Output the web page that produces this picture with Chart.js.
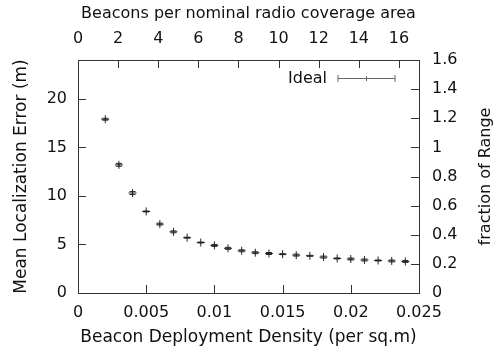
<!DOCTYPE html>
<html>
<head>
<meta charset="utf-8">
<script src="https://cdn.jsdelivr.net/npm/chart.js@4"></script>
<style>
  html, body { margin: 0; padding: 0; background: #fff; }
  canvas { display: block; }
</style>
</head>
<body>
<canvas id="densityChart" width="494" height="356"></canvas>
<script>
// beacon deployment density (per sq.m), one run per 0.001 step
const density = [0.002, 0.003, 0.004, 0.005, 0.006, 0.007, 0.008, 0.009, 0.010, 0.011, 0.012,
  0.013, 0.014, 0.015, 0.016, 0.017, 0.018, 0.019, 0.020, 0.021, 0.022, 0.023, 0.024];
// mean localization error (m) and half-width of its error bar
const meanError = [17.9, 13.2, 10.3, 8.4, 7.1, 6.3, 5.7, 5.2, 4.9, 4.6, 4.35,
  4.15, 4.07, 4.0, 3.9, 3.83, 3.7, 3.56, 3.5, 3.4, 3.35, 3.3, 3.25];
const errorSpread = [0.1, 0.15, 0.15, 0.05, 0.1, 0.1, 0.05, 0.05, 0.1, 0.1, 0.1,
  0.1, 0.1, 0.05, 0.1, 0.05, 0.1, 0.05, 0.1, 0.1, 0.05, 0.1, 0.1];

const leftTicks = [0, 5, 10, 15, 20];
const bottomTicks = [0, 0.005, 0.01, 0.015, 0.02, 0.025];
const topTicks = [0, 2, 4, 6, 8, 10, 12, 14, 16];
const rightTicks = [0, 0.2, 0.4, 0.6, 0.8, 1, 1.2, 1.4, 1.6];

Chart.defaults.font.family = "'DejaVu Sans', sans-serif";
Chart.defaults.font.size = 16;
Chart.defaults.color = '#111';

const INK = '#262626';
const FRAME = '#333';
const TICK_LEN = 8;

const fixTicks = (values) => (scale) => {
  scale.ticks = values.map((v) => ({ value: v }));
};

// gnuplot style tick marks, pointing into the plot
const inwardTicks = {
  id: 'inwardTicks',
  afterDraw(chart) {
    const { ctx, chartArea: a } = chart;
    ctx.save();
    ctx.strokeStyle = FRAME;
    ctx.lineWidth = 1;
    ctx.beginPath();
    Object.values(chart.scales).forEach((s) => {
      s.ticks.forEach((t) => {
        const p = Math.round(s.getPixelForValue(t.value)) + 0.5;
        if (s.position === 'left') { ctx.moveTo(a.left, p); ctx.lineTo(a.left + TICK_LEN, p); }
        if (s.position === 'right') { ctx.moveTo(a.right, p); ctx.lineTo(a.right - TICK_LEN, p); }
        if (s.position === 'bottom') { ctx.moveTo(p, a.bottom); ctx.lineTo(p, a.bottom - TICK_LEN); }
        if (s.position === 'top') { ctx.moveTo(p, a.top); ctx.lineTo(p, a.top + TICK_LEN); }
      });
    });
    ctx.stroke();
    ctx.restore();
  },
};

const errorBars = {
  id: 'errorBars',
  afterDatasetsDraw(chart) {
    const { ctx, scales: { x, y } } = chart;
    ctx.save();
    ctx.strokeStyle = INK;
    ctx.lineWidth = 1;
    ctx.beginPath();
    density.forEach((d, i) => {
      const px = x.getPixelForValue(d);
      const hi = y.getPixelForValue(meanError[i] + errorSpread[i]);
      const lo = y.getPixelForValue(meanError[i] - errorSpread[i]);
      ctx.moveTo(px, hi); ctx.lineTo(px, lo);
      ctx.moveTo(px - 3, hi); ctx.lineTo(px + 3, hi);
      ctx.moveTo(px - 3, lo); ctx.lineTo(px + 3, lo);
    });
    ctx.stroke();
    ctx.restore();
  },
};

// key in the top right corner + the right hand axis label (reads bottom to top)
const keyAndY2Title = {
  id: 'keyAndY2Title',
  afterDraw(chart) {
    const { ctx, chartArea: a } = chart;
    const ky = a.top + 18.5;
    const x1 = a.right - 24;
    const x0 = a.right - 81;
    const xm = (x0 + x1) / 2;
    ctx.save();
    ctx.font = "16px 'DejaVu Sans'";
    ctx.fillStyle = '#111';
    ctx.textAlign = 'right';
    ctx.textBaseline = 'middle';
    ctx.fillText(chart.data.datasets[0].label, a.right - 92, ky);

    ctx.strokeStyle = '#666';
    ctx.lineWidth = 1;
    ctx.beginPath();
    ctx.moveTo(x0, ky); ctx.lineTo(x1, ky);
    ctx.moveTo(x0, ky - 3.5); ctx.lineTo(x0, ky + 3.5);
    ctx.moveTo(x1, ky - 3.5); ctx.lineTo(x1, ky + 3.5);
    ctx.moveTo(xm, ky - 2.5); ctx.lineTo(xm, ky + 2.5);
    ctx.stroke();

    ctx.translate(486, (a.top + a.bottom) / 2);
    ctx.rotate(-Math.PI / 2);
    ctx.textAlign = 'center';
    ctx.fillText('fraction of Range', 0, 0);
    ctx.restore();
  },
};

const points = density.map((d, i) => ({ x: d, y: meanError[i] }));

const config = {
  type: 'scatter',
  data: {
    datasets: [
      {
        label: 'Ideal',
        data: points,
        pointStyle: 'cross',
        pointRadius: 4,
        pointHoverRadius: 4,
        borderColor: INK,
        backgroundColor: INK,
        borderWidth: 1,
      },
    ],
  },
  options: {
    responsive: false,
    animation: false,
    layout: { padding: 0 },
    plugins: {
      legend: { display: false },
      tooltip: { enabled: false },
    },
    scales: {
      x: {
        type: 'linear',
        position: 'bottom',
        min: 0,
        max: 0.025,
        afterBuildTicks: fixTicks(bottomTicks),
        afterFit: (s) => { s.height = 63; },
        grid: { display: false, drawTicks: false },
        border: { display: true, color: FRAME, width: 1 },
        ticks: { padding: 10, maxRotation: 0, autoSkip: false, callback: (v) => String(v) },
        title: {
          display: true,
          text: 'Beacon Deployment Density (per sq.m)',
          font: { size: 17 },
          padding: { bottom: 8 },
        },
      },
      x2: {
        type: 'linear',
        position: 'top',
        min: 0,
        max: 17,
        afterBuildTicks: fixTicks(topTicks),
        afterFit: (s) => { s.height = 60; },
        grid: { display: false, drawTicks: false },
        border: { display: true, color: FRAME, width: 1 },
        ticks: { padding: 12, maxRotation: 0, autoSkip: false, callback: (v) => String(v) },
        title: { display: true, text: 'Beacons per nominal radio coverage area', padding: { top: 4 } },
      },
      y: {
        type: 'linear',
        position: 'left',
        min: 0,
        max: 24,
        afterBuildTicks: fixTicks(leftTicks),
        afterFit: (s) => { s.width = 78; },
        grid: { display: false, drawTicks: false },
        border: { display: true, color: FRAME, width: 1 },
        ticks: { padding: 11, autoSkip: false, callback: (v) => String(v) },
        title: {
          display: true,
          text: 'Mean Localization Error (m)',
          font: { size: 17 },
          padding: { top: 11 },
        },
      },
      y2: {
        type: 'linear',
        position: 'right',
        min: 0,
        max: 1.6,
        afterBuildTicks: fixTicks(rightTicks),
        afterFit: (s) => { s.width = 75; },
        grid: { display: false, drawTicks: false },
        border: { display: true, color: FRAME, width: 1 },
        ticks: { padding: 13, autoSkip: false, callback: (v) => String(v) },
      },
    },
  },
  plugins: [errorBars, inwardTicks, keyAndY2Title],
};

new Chart(document.getElementById('densityChart'), config);
</script>
</body>
</html>
